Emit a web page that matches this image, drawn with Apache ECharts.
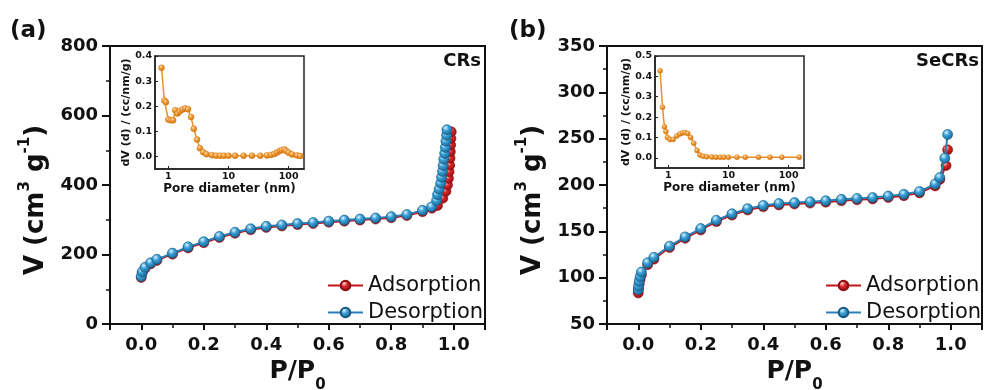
<!DOCTYPE html>
<html>
<head>
<meta charset="utf-8">
<script src="https://cdn.jsdelivr.net/npm/echarts@6/dist/echarts.min.js"></script>
<style>
html, body { margin: 0; padding: 0; background: #ffffff; }
#chart { width: 985px; height: 390px; }
</style>
</head>
<body>
<div id="chart"></div>
<script>
// ---------- (a) CRs: N2 isotherm ----------
const crsDesP = [0.0, 0.003, 0.012, 0.03, 0.05, 0.1, 0.15, 0.2, 0.25, 0.3, 0.35, 0.4, 0.45, 0.5, 0.55, 0.6, 0.65, 0.7, 0.75, 0.8, 0.85, 0.9,
  0.929, 0.945, 0.948, 0.953, 0.958, 0.961, 0.964, 0.966, 0.968, 0.971, 0.973, 0.975, 0.977, 0.978];
const crsDesV = [137, 150, 163, 176, 186, 204, 222, 237, 252, 264, 274, 281, 285, 289, 292, 296, 299, 302, 305, 309, 315, 327,
  337, 355, 372, 388, 405, 422, 439, 456, 474, 491, 508, 526, 543, 559];
const crsAdsP = [0.0, 0.003, 0.012, 0.03, 0.05, 0.1, 0.15, 0.2, 0.25, 0.3, 0.35, 0.4, 0.45, 0.5, 0.55, 0.6, 0.65, 0.7, 0.75, 0.8, 0.85, 0.9,
  0.93, 0.948, 0.965, 0.975, 0.98, 0.983, 0.985, 0.987, 0.988, 0.989, 0.99, 0.991, 0.992];
const crsAdsV = [134, 147, 160, 173, 183, 201, 219, 234, 249, 261, 271, 278, 282, 286, 289, 293, 296, 299, 302, 306, 312, 323,
  333, 341, 362, 382, 400, 419, 438, 457, 477, 496, 515, 534, 553];

// (a) inset: pore size distribution
const crsPoreD = [0.77, 0.86, 0.91, 1.0, 1.1, 1.2, 1.3, 1.42, 1.55, 1.72, 1.92, 2.12, 2.38, 2.65, 3.0, 3.35, 3.8, 4.3, 5.3, 6.2,
  7.3, 8.4, 10, 12.9, 17.8, 24.5, 33.8, 43.6, 51, 58, 64, 71, 77, 85, 91, 100, 114, 138, 156];
const crsPoreDV = [0.353, 0.223, 0.216, 0.147, 0.144, 0.144, 0.184, 0.171, 0.18, 0.187, 0.191, 0.188, 0.157, 0.11, 0.067, 0.033, 0.017, 0.009, 0.005, 0.003,
  0.003, 0.003, 0.003, 0.003, 0.003, 0.003, 0.003, 0.004, 0.006, 0.01, 0.016, 0.022, 0.025, 0.028, 0.022, 0.015, 0.008, 0.004, 0.002];

// ---------- (b) SeCRs: N2 isotherm ----------
const secrsDesP = [0.0, 0.001, 0.003, 0.006, 0.01, 0.03, 0.05, 0.1, 0.15, 0.2, 0.25, 0.3, 0.35, 0.4, 0.45, 0.5, 0.55, 0.6, 0.65, 0.7,
  0.75, 0.8, 0.85, 0.9, 0.95, 0.965, 0.981, 0.99];
const secrsDesV = [87, 91, 96, 101, 106, 116, 122, 134, 144, 153, 162, 169, 174.5, 178, 180, 181, 182, 183, 184.5, 185.5,
  186.5, 188, 190, 193, 201, 208, 229, 254.5];
const secrsAdsP = [0.0, 0.001, 0.003, 0.006, 0.01, 0.03, 0.05, 0.1, 0.15, 0.2, 0.25, 0.3, 0.35, 0.4, 0.45, 0.5, 0.55, 0.6, 0.65, 0.7,
  0.75, 0.8, 0.85, 0.9, 0.95, 0.965, 0.985, 0.99];
const secrsAdsV = [83.5, 88, 93, 98, 103, 114, 120, 132.5, 142.5, 151.5, 160.5, 167.5, 173, 176.5, 178.5, 179.5, 180.5, 181.5, 183, 184,
  185, 186.5, 188.5, 191.5, 199, 206, 221, 238];

// (b) inset: pore size distribution
const secrsPoreD = [0.73, 0.80, 0.86, 0.91, 0.97, 1.07, 1.2, 1.38, 1.55, 1.72, 1.9, 2.1, 2.35, 2.65, 3.0, 3.35, 3.8, 4.36, 5.3, 6.2,
  7.3, 8.4, 10, 13.8, 19, 31.6, 49, 77, 150];
const secrsPoreDV = [0.427, 0.248, 0.152, 0.129, 0.1, 0.09, 0.09, 0.107, 0.117, 0.122, 0.124, 0.12, 0.1, 0.072, 0.036, 0.014, 0.008, 0.005, 0.004, 0.003,
  0.003, 0.003, 0.003, 0.003, 0.003, 0.003, 0.003, 0.003, 0.003];

// Axis tick definitions
const crsVTicks = { min: 0, max: 800, interval: 200 };
const secrsVTicks = { min: 50, max: 350, interval: 50 };
const pressureRange = { min: -0.1, max: 1.1 };
const poreRange = { min: 0.6, max: 180 };
const legendNames = ['Adsorption', 'Desorption'];

const zip = (xs, ys) => xs.map((x, i) => [x, ys[i]]);

const FONT = 'DejaVu Sans';
const INK = '#111111';

const ball = (light, mid, dark) => ({
  type: 'radial', x: 0.38, y: 0.32, r: 0.72,
  colorStops: [
    { offset: 0, color: light },
    { offset: 0.4, color: mid },
    { offset: 1, color: dark }
  ]
});
const redBall = ball('#ffd9d6', '#d8262a', '#8e0c0f');
const blueBall = ball('#dff4ff', '#379fd6', '#17608d');
const orangeBall = ball('#ffe2b8', '#f29a34', '#c96f10');

function mainXAxis(gridIndex) {
  return {
    type: 'value', gridIndex,
    min: pressureRange.min, max: pressureRange.max,
    splitLine: { show: false },
    axisLine: { onZero: false, lineStyle: { color: INK, width: 2 } },
    axisTick: { length: 6, lineStyle: { color: INK, width: 2 } },
    minorTick: { show: true, splitNumber: 2, length: 4, lineStyle: { color: INK, width: 1.5 } },
    axisLabel: {
      fontFamily: FONT, fontWeight: 'bold', fontSize: 18, color: INK, margin: 12,
      showMinLabel: false, showMaxLabel: false,
      formatter: v => v.toFixed(1)
    },
    name: '{m|P/P}{b|0}',
    nameLocation: 'middle', nameGap: 15,
    nameTextStyle: {
      rich: {
        m: { fontFamily: FONT, fontWeight: 'bold', fontSize: 25, color: INK, lineHeight: 42 },
        b: { fontFamily: FONT, fontWeight: 'bold', fontSize: 15, color: INK, lineHeight: 15, verticalAlign: 'bottom' }
      }
    }
  };
}

function mainYAxis(gridIndex, ticks) {
  return {
    type: 'value', gridIndex,
    min: ticks.min, max: ticks.max, interval: ticks.interval,
    splitLine: { show: false },
    axisLine: { onZero: false, lineStyle: { color: INK, width: 2 } },
    axisTick: { length: 8, lineStyle: { color: INK, width: 2 } },
    minorTick: { show: true, splitNumber: 2, length: 4, lineStyle: { color: INK, width: 1.5 } },
    axisLabel: { fontFamily: FONT, fontWeight: 'bold', fontSize: 18, color: INK, margin: 12 },
    name: '{m|V (cm}{s|3}{m| g}{s|-1}{m|)}',
    nameLocation: 'middle', nameRotate: 90, nameGap: 56,
    nameTextStyle: {
      padding: [0, 30, 0, 0],
      rich: {
        m: { fontFamily: FONT, fontWeight: 'bold', fontSize: 26, color: INK, lineHeight: 36 },
        s: { fontFamily: FONT, fontWeight: 'bold', fontSize: 15, color: INK, lineHeight: 15, verticalAlign: 'top' }
      }
    }
  };
}

function insetXAxis(gridIndex) {
  return {
    type: 'log', logBase: 10, gridIndex,
    min: poreRange.min, max: poreRange.max,
    splitLine: { show: false },
    axisLine: { onZero: false, lineStyle: { color: '#222', width: 1.5 } },
    axisTick: { inside: true, length: 3, lineStyle: { color: '#222', width: 1 } },
    axisLabel: {
      fontFamily: FONT, fontWeight: 'bold', fontSize: 9.5, color: INK, margin: 3,
      showMinLabel: false, showMaxLabel: false,
      formatter: v => {
        const e = Math.log10(v);
        return Math.abs(e - Math.round(e)) < 1e-6 && v >= 1 ? String(Math.round(v)) : '';
      }
    },
    name: 'Pore diameter (nm)',
    nameLocation: 'middle', nameGap: 13,
    nameTextStyle: { fontFamily: FONT, fontWeight: 'bold', fontSize: 12, color: INK }
  };
}

function insetYAxis(gridIndex, max) {
  return {
    type: 'value', gridIndex,
    min: -0.05, max,
    splitLine: { show: false },
    axisLine: { onZero: false, lineStyle: { color: '#222', width: 1.5 } },
    axisTick: { inside: true, length: 3, lineStyle: { color: '#222', width: 1 } },
    axisLabel: {
      fontFamily: FONT, fontWeight: 'bold', fontSize: 9.5, color: INK, margin: 3,
      showMinLabel: false,
      formatter: v => (v < -0.001 ? '' : v.toFixed(1))
    },
    name: 'dV (d) / (cc/nm/g)',
    nameLocation: 'middle', nameRotate: 90, nameGap: 20,
    nameTextStyle: { fontFamily: FONT, fontWeight: 'bold', fontSize: 11, color: INK }
  };
}

function isoSeries(name, idx, data, lineColor, fill, border, z) {
  return {
    type: 'line', name, xAxisIndex: idx, yAxisIndex: idx, data, z,
    symbol: 'circle', symbolSize: 10, showAllSymbol: true,
    lineStyle: { color: lineColor, width: 2 },
    itemStyle: { color: fill, borderColor: border, borderWidth: 0.6 },
    emphasis: { disabled: true },
    animation: false
  };
}

function poreSeries(idx, data, size) {
  return {
    type: 'line', name: 'PSD', xAxisIndex: idx, yAxisIndex: idx, data, z: 5,
    symbol: 'circle', symbolSize: size, showAllSymbol: true,
    lineStyle: { color: '#ec8f28', width: 1.5 },
    itemStyle: { color: orangeBall, borderColor: '#d27816', borderWidth: 0.5 },
    emphasis: { disabled: true },
    animation: false
  };
}

function legendAt(left) {
  return {
    left, top: 275, orient: 'vertical', padding: 0,
    itemWidth: 35, itemHeight: 12, itemGap: 6,
    selectedMode: false,
    data: legendNames,
    textStyle: { fontFamily: FONT, fontSize: 21, color: INK }
  };
}

function panelText(x, y, text, size, align) {
  return {
    type: 'text', x, y, z: 100,
    style: {
      text, align, verticalAlign: 'middle',
      fontFamily: FONT, fontWeight: 'bold', fontSize: size, fill: INK
    }
  };
}

const chart = echarts.init(document.getElementById('chart'), null, { renderer: 'canvas' });

chart.setOption({
  backgroundColor: '#ffffff',
  animation: false,
  grid: [
    { left: 110, top: 46, width: 375, height: 278, show: true, borderColor: INK, borderWidth: 2, outerBoundsMode: 'none' },
    { left: 607, top: 46, width: 375, height: 278, show: true, borderColor: INK, borderWidth: 2, outerBoundsMode: 'none' },
    { left: 155, top: 56, width: 149, height: 113, show: true, backgroundColor: '#ffffff', borderColor: '#222', borderWidth: 1.5, outerBoundsMode: 'none' },
    { left: 655, top: 56, width: 149, height: 112, show: true, backgroundColor: '#ffffff', borderColor: '#222', borderWidth: 1.5, outerBoundsMode: 'none' }
  ],
  xAxis: [mainXAxis(0), mainXAxis(1), insetXAxis(2), insetXAxis(3)],
  yAxis: [mainYAxis(0, crsVTicks), mainYAxis(1, secrsVTicks), insetYAxis(2, 0.4), insetYAxis(3, 0.5)],
  legend: [legendAt(327), legendAt(825)],
  series: [
    isoSeries('Adsorption', 0, zip(crsAdsP, crsAdsV), '#c3161c', redBall, '#8a0e0e', 2),
    isoSeries('Desorption', 0, zip(crsDesP, crsDesV), '#2a80b9', blueBall, '#16597f', 3),
    isoSeries('Adsorption', 1, zip(secrsAdsP, secrsAdsV), '#c3161c', redBall, '#8a0e0e', 2),
    isoSeries('Desorption', 1, zip(secrsDesP, secrsDesV), '#2a80b9', blueBall, '#16597f', 3),
    poreSeries(2, zip(crsPoreD, crsPoreDV), 6),
    poreSeries(3, zip(secrsPoreD, secrsPoreDV), 5)
  ],
  graphic: [
    panelText(10, 31, '(a)', 23, 'left'),
    panelText(509, 31, '(b)', 23, 'left'),
    panelText(481, 61, 'CRs', 18, 'right'),
    panelText(979, 61, 'SeCRs', 18, 'right')
  ]
});
</script>
</body>
</html>
